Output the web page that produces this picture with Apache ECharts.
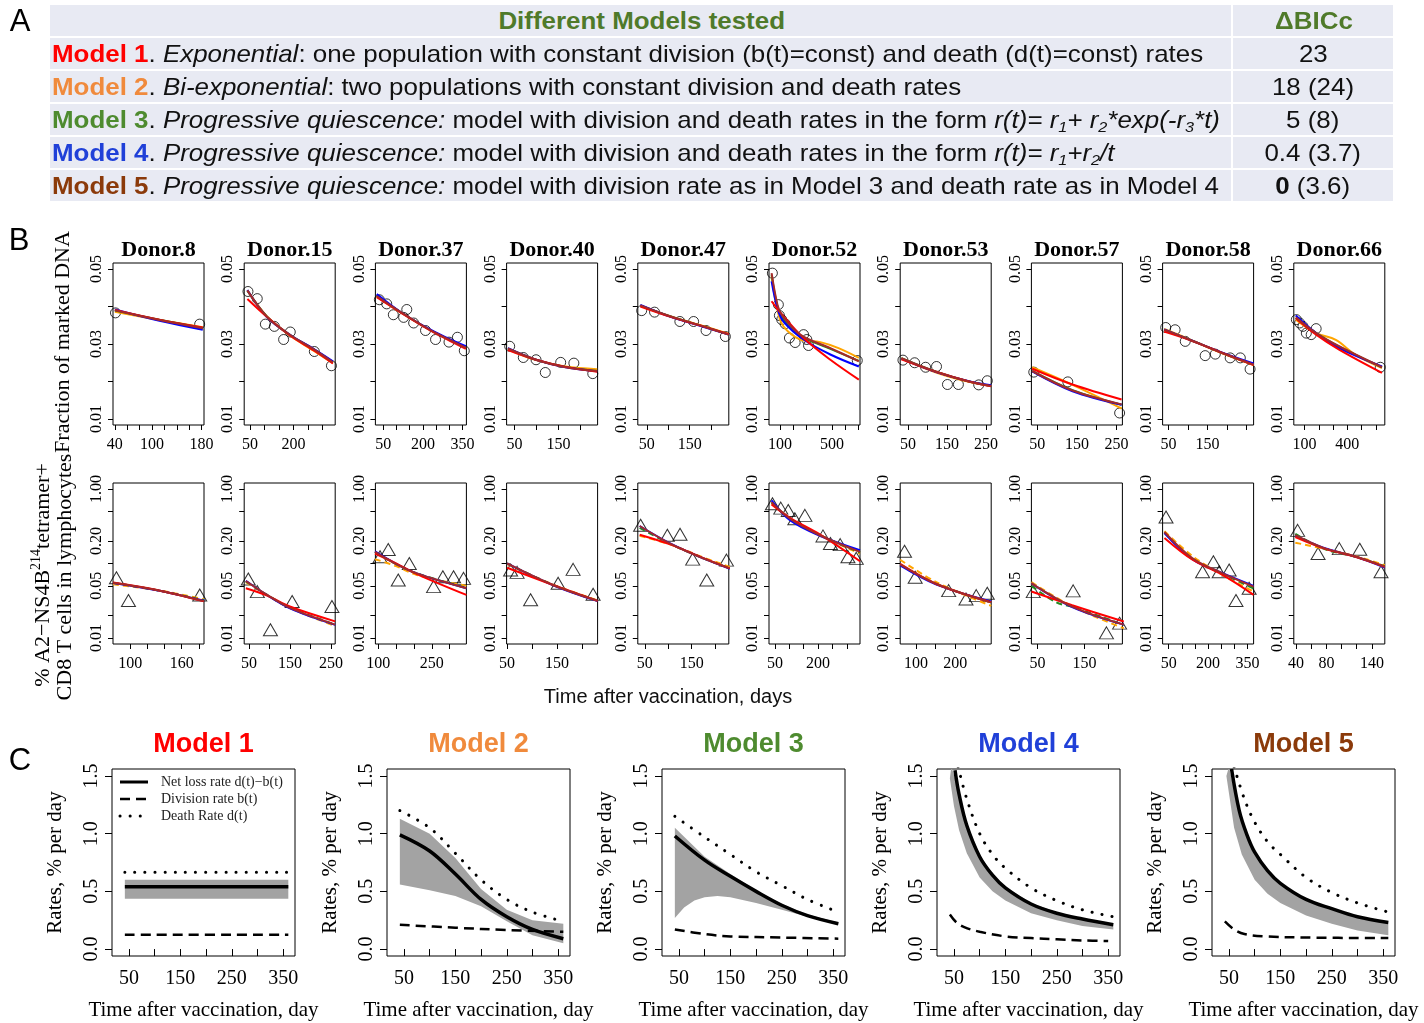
<!DOCTYPE html>
<html>
<head>
<meta charset="utf-8">
<title>Models of marked DNA and tetramer+ T cell decline</title>
<script src="https://cdn.jsdelivr.net/npm/echarts@6.0.0/dist/echarts.min.js"></script>
<style>
  body { margin: 0; background: #fff; }
  #wrap { position: relative; width: 1424px; height: 1023px; }
  #chart { position: absolute; left: 0; top: 0; width: 1424px; height: 1023px; }
  #panelA {
    position: absolute; left: 48px; top: 3px; z-index: 2;
    border-collapse: separate; border-spacing: 2px; table-layout: fixed;
    font-family: 'Liberation Sans', Arial, sans-serif; font-size: 24px; color: #111;
  }
  #panelA td, #panelA th {
    background: #E8EAF3; height: 31px; line-height: 31px; padding: 0 0 0 2px;
    white-space: nowrap; overflow: visible; font-weight: normal; text-align: left;
  }
  #panelA th { color: #4F7A2A; font-weight: bold; text-align: center; }
  #panelA td.num { text-align: center; padding: 0; }
  #panelA span.s { display: inline-block; transform: scaleX(1.08); transform-origin: 0 50%; }
  #panelA th span.s, #panelA td.num span.s { transform-origin: 50% 50%; }
  #panelA sub { font-size: 15px; line-height: 0; vertical-align: -4px; }
  #panelA b { font-weight: bold; }
</style>
</head>
<body>
<div id="wrap">
  <div id="chart"></div>
  <table id="panelA">
    <colgroup><col style="width:1181px"><col style="width:160px"></colgroup>
    <tr><th><span class="s">Different Models tested</span></th><th><span class="s">ΔBICc</span></th></tr>
    <tr><td><span class="s"><b style="color:#FF0000">Model 1</b>. <i>Exponential</i>: one population with constant division (b(t)=const) and death (d(t)=const) rates</span></td><td class="num"><span class="s">23</span></td></tr>
    <tr><td><span class="s"><b style="color:#F08A3C">Model 2</b>. <i>Bi-exponential</i>: two populations with constant division and death rates</span></td><td class="num"><span class="s">18 (24)</span></td></tr>
    <tr><td><span class="s"><b style="color:#4E8B2F">Model 3</b>. <i>Progressive quiescence:</i> model with division and death rates in the form <i>r(t)= r<sub>1</sub>+ r<sub>2</sub>*exp(-r<sub>3</sub>*t)</i></span></td><td class="num"><span class="s">5 (8)</span></td></tr>
    <tr><td><span class="s"><b style="color:#2040D8">Model 4</b>. <i>Progressive quiescence:</i> model with division and death rates in the form <i>r(t)= r<sub>1</sub>+r<sub>2</sub>/t</i></span></td><td class="num"><span class="s">0.4 (3.7)</span></td></tr>
    <tr><td><span class="s"><b style="color:#8B3A0A">Model 5</b>. <i>Progressive quiescence:</i> model with division rate as in Model 3 and death rate as in Model 4</span></td><td class="num"><span class="s"><b>0</b> (3.6)</span></td></tr>
  </table>
</div>
<script>
// ---- panel B: donors ----
const donors = ['Donor.8', 'Donor.15', 'Donor.37', 'Donor.40', 'Donor.47', 'Donor.52', 'Donor.53', 'Donor.57', 'Donor.58', 'Donor.66'];

// top row (fraction of marked DNA), x axes
const dnaXMin = [37, 30, 20, 32, 29, 15, 30, 35, 35, 24];
const dnaXMax = [184, 344, 365, 239, 241, 715, 263, 265, 268, 663];
const dnaXTicks = [
  [40, 60, 80, 100, 120, 140, 160, 180],
  [50, 100, 150, 200, 250, 300],
  [50, 100, 150, 200, 250, 300, 350],
  [50, 100, 150, 200],
  [50, 100, 150, 200],
  [100, 200, 300, 400, 500, 600, 700],
  [50, 100, 150, 200, 250],
  [50, 100, 150, 200, 250],
  [50, 100, 150, 200, 250],
  [100, 200, 300, 400, 500, 600]
];
const dnaXLabels = [[40, 100, 180], [50, 200], [50, 200, 350], [50, 150], [50, 150], [100, 500], [50, 150, 250], [50, 150, 250], [50, 150], [100, 400]];
const dnaYTicks = [0.01, 0.02, 0.03, 0.04, 0.05];
const dnaYLabels = [0.01, 0.03, 0.05];

const dnaObs = [
  [[41, 0.0383], [177, 0.0353]],
  [[43, 0.0440], [75, 0.0421], [103, 0.0353], [134, 0.0347], [166, 0.0312], [189, 0.0332], [272, 0.0280], [331, 0.0242]],
  [[35, 0.0418], [63, 0.0407], [88, 0.0378], [127, 0.0371], [139, 0.0392], [165, 0.0356], [210, 0.0336], [248, 0.0312], [299, 0.0305], [331, 0.0318], [357, 0.0282]],
  [[39, 0.0294], [70, 0.0264], [99, 0.0258], [120, 0.0224], [155, 0.0251], [185, 0.0249], [228, 0.0221]],
  [[38, 0.0389], [68, 0.0385], [127, 0.0360], [159, 0.0360], [188, 0.0336], [233, 0.0320]],
  [[41, 0.0489], [87, 0.0405], [95, 0.0376], [113, 0.0365], [139, 0.0354], [172, 0.0316], [216, 0.0304], [281, 0.0325], [306, 0.0312], [319, 0.0296], [694, 0.0256]],
  [[37, 0.0257], [67, 0.0250], [95, 0.0238], [123, 0.0240], [151, 0.0192], [179, 0.0192], [231, 0.0191], [253, 0.0202]],
  [[41, 0.0225], [127, 0.0199], [258, 0.0116]],
  [[43, 0.0344], [67, 0.0338], [93, 0.0307], [144, 0.0269], [170, 0.0273], [208, 0.0263], [234, 0.0263], [259, 0.0233]],
  [[42, 0.0365], [65, 0.0356], [88, 0.0347], [112, 0.0329], [146, 0.0325], [181, 0.0341], [631, 0.0238]]
];

// model fits, marked DNA
const dnaM1 = [
  [[40, 0.0391], [112, 0.0365], [182, 0.0344]],
  [[41, 0.0420], [109, 0.0372], [189, 0.0322], [272, 0.0282], [336, 0.0248]],
  [[25, 0.0425], [114, 0.0385], [216, 0.0341], [290, 0.0313], [363, 0.0287]],
  [[35, 0.0284], [99, 0.0258], [166, 0.0239], [238, 0.0226]],
  [[35, 0.0400], [104, 0.0373], [181, 0.0347], [241, 0.0326]],
  [[35, 0.0414], [100, 0.0385], [281, 0.0316], [487, 0.0258], [706, 0.0205]],
  [[33, 0.0259], [122, 0.0226], [206, 0.0200], [263, 0.0187]],
  [[37, 0.0234], [139, 0.0192], [263, 0.0152]],
  [[39, 0.0333], [103, 0.0311], [188, 0.0276], [268, 0.0244]],
  [[38, 0.0369], [181, 0.0325], [342, 0.0285], [643, 0.0223]]
];
const dnaM2 = [
  [[40, 0.0386], [112, 0.0364], [182, 0.0345]],
  [[41, 0.0443], [109, 0.0373], [189, 0.0322], [272, 0.0281], [336, 0.0249]],
  [[25, 0.0427], [114, 0.0385], [216, 0.0342], [290, 0.0315], [363, 0.0289]],
  [[35, 0.0286], [99, 0.0257], [166, 0.0240], [238, 0.0233]],
  [[35, 0.0402], [104, 0.0374], [181, 0.0348], [241, 0.0327]],
  [[35, 0.0480], [80, 0.0390], [126, 0.0347], [255, 0.0312], [410, 0.0305], [550, 0.0289], [706, 0.0263]],
  [[33, 0.0262], [122, 0.0224], [206, 0.0199], [263, 0.0189]],
  [[37, 0.0238], [139, 0.0191], [263, 0.0128]],
  [[39, 0.0340], [103, 0.0313], [188, 0.0275], [268, 0.0244]],
  [[38, 0.0365], [181, 0.0329], [319, 0.0311], [458, 0.0271], [643, 0.0236]]
];
const dnaM3 = [
  [[40, 0.0389], [112, 0.0365], [182, 0.0343]],
  [[41, 0.0442], [109, 0.0373], [189, 0.0324], [272, 0.0285], [336, 0.0252]],
  [[25, 0.0428], [114, 0.0386], [216, 0.0342], [290, 0.0315], [363, 0.0290]],
  [[35, 0.0288], [99, 0.0258], [166, 0.0239], [238, 0.0228]],
  [[35, 0.0403], [104, 0.0374], [181, 0.0347], [241, 0.0325]],
  [[35, 0.0485], [80, 0.0400], [126, 0.0365], [255, 0.0322], [487, 0.0287], [706, 0.0255]],
  [[33, 0.0262], [122, 0.0226], [206, 0.0200], [263, 0.0188]],
  [[37, 0.0228], [139, 0.0177], [263, 0.0138]],
  [[39, 0.0338], [103, 0.0312], [188, 0.0276], [268, 0.0245]],
  [[38, 0.0370], [181, 0.0329], [342, 0.0293], [643, 0.0238]]
];
const dnaM4 = [
  [[40, 0.0392], [112, 0.0362], [182, 0.0338]],
  [[41, 0.0444], [109, 0.0371], [189, 0.0324], [272, 0.0286], [336, 0.0254]],
  [[25, 0.0433], [114, 0.0386], [216, 0.0343], [290, 0.0317], [363, 0.0294]],
  [[35, 0.0289], [99, 0.0258], [166, 0.0238], [238, 0.0227]],
  [[35, 0.0404], [104, 0.0373], [181, 0.0346], [241, 0.0325]],
  [[35, 0.0467], [80, 0.0395], [126, 0.0360], [281, 0.0312], [487, 0.0272], [706, 0.0240]],
  [[33, 0.0261], [122, 0.0225], [206, 0.0201], [263, 0.0190]],
  [[37, 0.0227], [139, 0.0174], [263, 0.0138]],
  [[39, 0.0339], [103, 0.0312], [188, 0.0277], [268, 0.0248]],
  [[38, 0.0376], [181, 0.0329], [342, 0.0289], [643, 0.0240]]
];
const dnaM5 = [
  [[40, 0.0390], [112, 0.0364], [182, 0.0342]],
  [[41, 0.0443], [109, 0.0372], [189, 0.0324], [272, 0.0285], [336, 0.0251]],
  [[25, 0.0428], [114, 0.0386], [216, 0.0342], [290, 0.0315], [363, 0.0290]],
  [[35, 0.0288], [99, 0.0258], [166, 0.0238], [238, 0.0228]],
  [[35, 0.0403], [104, 0.0374], [181, 0.0347], [241, 0.0325]],
  [[35, 0.0489], [80, 0.0405], [113, 0.0378], [255, 0.0325], [487, 0.0289], [706, 0.0254]],
  [[33, 0.0262], [122, 0.0226], [206, 0.0200], [263, 0.0188]],
  [[37, 0.0228], [139, 0.0176], [263, 0.0139]],
  [[39, 0.0338], [103, 0.0312], [188, 0.0276], [268, 0.0245]],
  [[38, 0.0371], [181, 0.0329], [342, 0.0294], [643, 0.0238]]
];

// bottom row (% tetramer+ CD8 T cells), x axes
const tcXMin = [80, 38, 92, 49, 35, 29, 60, 37, 27, 37];
const tcXMax = [186, 260, 347, 231, 229, 346, 291, 231, 373, 157];
const tcXTicks = [
  [100, 120, 140, 160, 180],
  [50, 100, 150, 200, 250],
  [100, 150, 200, 250, 300],
  [50, 100, 150, 200],
  [50, 100, 150, 200],
  [50, 100, 150, 200, 250, 300],
  [100, 150, 200, 250],
  [50, 100, 150, 200],
  [50, 100, 150, 200, 250, 300, 350],
  [40, 60, 80, 100, 120, 140]
];
const tcXLabels = [[100, 160], [50, 150, 250], [100, 250], [50, 150], [50, 150], [50, 200], [100, 200], [50, 150], [50, 200, 350], [40, 80, 140]];
const tcYTicks = [0.01, 0.02, 0.05, 0.1, 0.2, 0.5, 1];
const tcYLabels = [0.01, 0.05, 0.2, 1];

const tcObs = [
  [[84, 0.0644], [98, 0.0318], [181, 0.0378]],
  [[48, 0.0618], [70, 0.0419], [102, 0.0129], [155, 0.0308], [252, 0.0264]],
  [[105, 0.1227], [128, 0.1537], [156, 0.060], [187, 0.100], [255, 0.0489], [281, 0.0664], [311, 0.0664], [339, 0.063]],
  [[57, 0.0815], [70, 0.0759], [97, 0.0325], [152, 0.0541], [182, 0.0832], [222, 0.0386]],
  [[41, 0.3246], [98, 0.2387], [125, 0.246], [152, 0.1143], [182, 0.060], [224, 0.1107]],
  [[41, 0.631], [70, 0.552], [96, 0.514], [119, 0.398], [154, 0.441], [217, 0.234], [243, 0.185], [277, 0.179], [304, 0.123], [333, 0.117]],
  [[71, 0.146], [98, 0.0652], [183, 0.0432], [227, 0.0334], [253, 0.037], [281, 0.0398]],
  [[41, 0.0419], [126, 0.0428], [197, 0.0117], [225, 0.0158]],
  [[40, 0.419], [179, 0.0774], [220, 0.1053], [242, 0.0774], [280, 0.0815], [306, 0.0318], [356, 0.0464]],
  [[42, 0.278], [69, 0.136], [97, 0.158], [124, 0.155], [152, 0.0774]]
];

const tcM1 = [
  [[80, 0.0555], [131, 0.0440], [186, 0.0310]],
  [[42, 0.0464], [94, 0.0370], [151, 0.0262], [260, 0.0167]],
  [[91, 0.136], [150, 0.100], [208, 0.072], [347, 0.0378]],
  [[50, 0.0876], [142, 0.0514], [231, 0.0315]],
  [[39, 0.243], [104, 0.180], [175, 0.118], [231, 0.0858]],
  [[38, 0.620], [102, 0.410], [206, 0.245], [346, 0.107]],
  [[60, 0.0985], [152, 0.053], [291, 0.0301]],
  [[37, 0.042], [124, 0.0275], [234, 0.0166]],
  [[34, 0.220], [141, 0.112], [255, 0.070], [373, 0.0378]],
  [[39, 0.225], [76, 0.160], [119, 0.122], [157, 0.0903]]
];
const tcM2 = [
  [[80, 0.0525], [131, 0.0440], [186, 0.0330]],
  [[42, 0.0560], [94, 0.0375], [151, 0.0251], [260, 0.0145]],
  [[91, 0.114], [150, 0.092], [208, 0.070], [347, 0.050]],
  [[50, 0.098], [142, 0.0520], [231, 0.0320]],
  [[39, 0.235], [104, 0.180], [175, 0.120], [231, 0.090]],
  [[38, 0.640], [102, 0.400], [206, 0.240], [346, 0.135]],
  [[60, 0.112], [152, 0.056], [291, 0.027]],
  [[37, 0.056], [124, 0.0265], [234, 0.0135]],
  [[34, 0.270], [141, 0.125], [255, 0.070], [373, 0.042]],
  [[39, 0.190], [76, 0.158], [119, 0.125], [157, 0.095]]
];
const tcM3 = [
  [[80, 0.0550], [131, 0.0438], [186, 0.0320]],
  [[42, 0.0575], [94, 0.0378], [151, 0.0252], [260, 0.0152]],
  [[91, 0.143], [150, 0.098], [208, 0.0735], [347, 0.047]],
  [[50, 0.100], [142, 0.0514], [231, 0.0315]],
  [[39, 0.300], [104, 0.183], [175, 0.117], [231, 0.086]],
  [[38, 0.655], [102, 0.400], [206, 0.240], [346, 0.140]],
  [[60, 0.095], [152, 0.053], [291, 0.030]],
  [[37, 0.050], [90, 0.030], [124, 0.0262], [234, 0.015]],
  [[34, 0.260], [141, 0.115], [255, 0.073], [373, 0.046]],
  [[39, 0.250], [76, 0.158], [119, 0.122], [157, 0.092]]
];
const tcM4 = [
  [[80, 0.0545], [131, 0.0436], [186, 0.0315]],
  [[42, 0.0585], [94, 0.0375], [151, 0.0248], [260, 0.0150]],
  [[91, 0.145], [150, 0.099], [208, 0.0735], [347, 0.0464]],
  [[50, 0.100], [142, 0.0510], [231, 0.0312]],
  [[39, 0.318], [104, 0.186], [175, 0.1167], [231, 0.0850]],
  [[38, 0.700], [102, 0.380], [206, 0.235], [346, 0.150]],
  [[60, 0.094], [152, 0.052], [291, 0.031]],
  [[37, 0.054], [124, 0.026], [234, 0.0151]],
  [[34, 0.255], [141, 0.113], [255, 0.074], [373, 0.050]],
  [[39, 0.235], [76, 0.162], [119, 0.1227], [157, 0.088]]
];
const tcM5 = [
  [[80, 0.0552], [131, 0.0440], [186, 0.0312]],
  [[42, 0.0581], [94, 0.0378], [151, 0.0251], [260, 0.0151]],
  [[91, 0.143], [150, 0.098], [208, 0.0735], [347, 0.0464]],
  [[50, 0.100], [142, 0.0514], [231, 0.0315]],
  [[39, 0.318], [104, 0.185], [175, 0.1167], [231, 0.0858]],
  [[38, 0.664], [102, 0.398], [206, 0.239], [346, 0.143]],
  [[60, 0.097], [152, 0.053], [291, 0.030]],
  [[37, 0.0541], [124, 0.0264], [234, 0.0151]],
  [[34, 0.264], [141, 0.117], [255, 0.0736], [373, 0.0489]],
  [[39, 0.239], [76, 0.162], [119, 0.1227], [157, 0.0903]]
];

// ---- panel C: rates per model ----
const modelNames = ['Model 1', 'Model 2', 'Model 3', 'Model 4', 'Model 5'];
const rateXTicks = [50, 100, 150, 200, 250, 300, 350];
const rateXLabels = [50, 150, 250, 350];
const rateYTicks = [0, 0.5, 1, 1.5];

const rateNet = [
  [[42, 0.54], [360, 0.54]],
  [[42, 0.99], [100, 0.85], [150, 0.65], [200, 0.43], [250, 0.28], [300, 0.17], [360, 0.09]],
  [[42, 0.98], [100, 0.77], [150, 0.63], [200, 0.50], [250, 0.38], [300, 0.29], [360, 0.22]],
  [[52, 1.55], [60, 1.34], [75, 1.07], [100, 0.80], [125, 0.64], [150, 0.53], [200, 0.39], [250, 0.31], [300, 0.26], [360, 0.21]],
  [[55, 1.56], [70, 1.20], [85, 0.99], [100, 0.84], [125, 0.68], [150, 0.57], [200, 0.43], [250, 0.35], [300, 0.28], [360, 0.23]]
];
const rateDiv = [
  [[42, 0.125], [360, 0.125]],
  [[42, 0.21], [150, 0.185], [250, 0.165], [360, 0.15]],
  [[42, 0.17], [100, 0.13], [150, 0.11], [250, 0.10], [360, 0.09]],
  [[42, 0.30], [55, 0.23], [70, 0.19], [100, 0.15], [150, 0.11], [200, 0.095], [250, 0.085], [300, 0.075], [350, 0.07]],
  [[42, 0.24], [60, 0.17], [80, 0.13], [120, 0.11], [200, 0.10], [360, 0.095]]
];
const rateDeath = [
  [[42, 0.665], [360, 0.665]],
  [[42, 1.20], [100, 1.05], [150, 0.83], [200, 0.60], [250, 0.43], [300, 0.32], [360, 0.24]],
  [[42, 1.15], [100, 0.97], [150, 0.82], [200, 0.67], [250, 0.55], [300, 0.43], [360, 0.32]],
  [[58, 1.58], [75, 1.30], [100, 1.00], [125, 0.82], [150, 0.70], [200, 0.53], [250, 0.42], [300, 0.34], [360, 0.28]],
  [[60, 1.58], [80, 1.30], [100, 1.10], [125, 0.93], [150, 0.82], [200, 0.62], [250, 0.49], [300, 0.40], [360, 0.32]]
];
const rateHi = [
  [[42, 0.60], [360, 0.60]],
  [[42, 1.13], [100, 1.00], [150, 0.79], [200, 0.52], [250, 0.34], [300, 0.25], [360, 0.22]],
  [[42, 1.05], [100, 0.80], [150, 0.65], [200, 0.51], [250, 0.39], [300, 0.30], [360, 0.23]],
  [[45, 1.58], [60, 1.36], [75, 1.09], [100, 0.82], [125, 0.65], [150, 0.54], [200, 0.40], [250, 0.32], [300, 0.26], [360, 0.21]],
  [[50, 1.58], [60, 1.38], [70, 1.20], [85, 0.99], [100, 0.84], [125, 0.68], [150, 0.57], [200, 0.43], [250, 0.35], [300, 0.28], [360, 0.23]]
];
const rateLo = [
  [[42, 0.435], [360, 0.435]],
  [[42, 0.56], [100, 0.51], [150, 0.46], [200, 0.37], [250, 0.24], [300, 0.12], [360, 0.05]],
  [[42, 0.27], [60, 0.36], [80, 0.42], [100, 0.45], [125, 0.46], [150, 0.45], [200, 0.40], [250, 0.34], [300, 0.28], [360, 0.21]],
  [[42, 1.48], [50, 1.24], [60, 1.03], [75, 0.83], [100, 0.62], [125, 0.50], [150, 0.42], [200, 0.31], [250, 0.25], [300, 0.20], [360, 0.17]],
  [[45, 1.50], [60, 1.05], [75, 0.82], [100, 0.60], [125, 0.48], [150, 0.40], [200, 0.29], [250, 0.22], [300, 0.16], [360, 0.12]]
];

const SERIF = "'Liberation Serif', 'Times New Roman', serif";
const SANS = "'Liberation Sans', Arial, sans-serif";
const lineColors = ['#FF0000', '#FFA500', '#228B22', '#0000FF', '#A52A2A'];
const titleColors = ['#FF0000', '#F08A3C', '#4E8B2F', '#2040D8', '#8B3A0A'];
const NET = 'Net loss rate d(t)\u2212b(t)';
const DIV = 'Division rate b(t)';
const DEATH = 'Death Rate d(t)';
const dottedStyle = { color: '#000', width: 3, type: [0.1, 10], cap: 'round' };
const dashedStyle = { color: '#000', width: 2.5, type: [10, 6] };
const solidStyle = { color: '#000', width: 3.5 };

const chart = echarts.init(document.getElementById('chart'));

const grid = [], xAxis = [], yAxis = [], series = [], graphic = [];
const dnaFits = [dnaM1, dnaM2, dnaM3, dnaM4, dnaM5];
const tcFits = [tcM1, tcM2, tcM3, tcM4, tcM5];
const drawOrder = [1, 2, 3, 0, 4];

const tickStyle = (len, vals) => ({ show: true, length: len, customValues: vals, lineStyle: { color: '#000', width: 1 } });

for (let r = 0; r < 2; r++) {
  for (let i = 0; i < 10; i++) {
    const g = r * 10 + i;
    const left = 113 + i * 131.2;
    grid.push({
      left: left, top: r ? 483 : 263, width: 91, height: r ? 161 : 162,
      show: true, borderColor: '#000', borderWidth: 1, backgroundColor: 'transparent',
      outerBoundsMode: 'none'
    });
    xAxis.push({
      gridIndex: g, type: 'value',
      min: r ? tcXMin[i] : dnaXMin[i], max: r ? tcXMax[i] : dnaXMax[i],
      axisLine: { show: false },
      axisTick: tickStyle(5, r ? tcXTicks[i] : dnaXTicks[i]),
      axisLabel: { customValues: r ? tcXLabels[i] : dnaXLabels[i], fontFamily: SERIF, fontSize: 16, color: '#000', margin: 12 },
      splitLine: { show: false }
    });
    yAxis.push({
      gridIndex: g,
      type: r ? 'log' : 'value', logBase: 10,
      min: r ? 0.0083 : 0.0084, max: r ? 1.2 : 0.0516,
      axisLine: { show: false },
      axisTick: tickStyle(5, r ? tcYTicks : dnaYTicks),
      axisLabel: {
        customValues: r ? tcYLabels : dnaYLabels,
        formatter: v => Number(v).toFixed(2),
        rotate: 90, fontFamily: SERIF, fontSize: 16, color: '#000', margin: 8
      },
      splitLine: { show: false }, minorTick: { show: false }
    });
    series.push({
      type: 'scatter', xAxisIndex: g, yAxisIndex: g, silent: true,
      data: r ? tcObs[i] : dnaObs[i],
      symbol: r ? 'triangle' : 'circle', symbolSize: r ? [14, 12] : 10,
      itemStyle: { color: 'rgba(0,0,0,0)', borderColor: '#000', borderWidth: 1 }
    });
    drawOrder.forEach(m => {
      series.push({
        type: 'line', xAxisIndex: g, yAxisIndex: g, silent: true,
        data: (r ? tcFits : dnaFits)[m][i],
        symbol: 'none', smooth: 0.35,
        lineStyle: { color: lineColors[m], width: 2, type: (r && (m === 1 || m === 2)) ? [6, 4] : 'solid' }
      });
    });
    if (r === 0) {
      graphic.push({
        type: 'text', x: left + 45.5, y: 250,
        style: { text: donors[i], fontFamily: SERIF, fontSize: 22, fontWeight: 'bold', fill: '#000', align: 'center', verticalAlign: 'middle' }
      });
    }
  }
}

for (let m = 0; m < 5; m++) {
  const g = 20 + m;
  const left = 112 + m * 275;
  grid.push({
    left: left, top: 769, width: 183, height: 187,
    show: true, borderColor: '#000', borderWidth: 1, backgroundColor: 'transparent',
    outerBoundsMode: 'none'
  });
  xAxis.push({
    gridIndex: g, type: 'value', min: 17, max: 373,
    name: 'Time after vaccination, day', nameLocation: 'middle', nameGap: 44,
    nameTextStyle: { fontFamily: SERIF, fontSize: 21, color: '#000' },
    axisLine: { show: false },
    axisTick: tickStyle(7, rateXTicks),
    axisLabel: { customValues: rateXLabels, fontFamily: SERIF, fontSize: 20, color: '#000', margin: 13 },
    splitLine: { show: false }
  });
  yAxis.push({
    gridIndex: g, type: 'value', min: -0.06, max: 1.56,
    name: 'Rates, % per day', nameLocation: 'middle', nameGap: 46, nameRotate: 90,
    nameTextStyle: { fontFamily: SERIF, fontSize: 21, color: '#000' },
    axisLine: { show: false },
    axisTick: tickStyle(7, rateYTicks),
    axisLabel: { customValues: rateYTicks, formatter: v => Number(v).toFixed(1), rotate: 90, fontFamily: SERIF, fontSize: 20, color: '#000', margin: 10 },
    splitLine: { show: false }
  });
  const hi = rateHi[m], lo = rateLo[m];
  series.push({
    type: 'custom', xAxisIndex: g, yAxisIndex: g, silent: true, data: [0],
    renderItem: (params, api) => {
      const pts = hi.map(p => api.coord(p)).concat(lo.slice().reverse().map(p => api.coord(p)));
      const cs = params.coordSys;
      return {
        type: 'polygon', shape: { points: pts },
        style: { fill: '#A3A3A3' },
        clipPath: { type: 'rect', shape: { x: cs.x, y: cs.y, width: cs.width, height: cs.height } }
      };
    }
  });
  series.push({
    name: DEATH, type: 'line', xAxisIndex: g, yAxisIndex: g, silent: true, data: rateDeath[m],
    symbol: 'none', smooth: 0.35, lineStyle: dottedStyle
  });
  series.push({
    name: DIV, type: 'line', xAxisIndex: g, yAxisIndex: g, silent: true, data: rateDiv[m],
    symbol: 'none', smooth: 0.35, lineStyle: dashedStyle
  });
  series.push({
    name: NET, type: 'line', xAxisIndex: g, yAxisIndex: g, silent: true, data: rateNet[m],
    symbol: 'none', smooth: 0.35, lineStyle: solidStyle
  });
  graphic.push({
    type: 'text', x: left + 91.5, y: 745,
    style: { text: modelNames[m], fontFamily: SANS, fontSize: 27, fontWeight: 'bold', fill: titleColors[m], align: 'center', verticalAlign: 'middle' }
  });
}

// legend of Model 1 panel
[[NET, solidStyle], [DIV, dashedStyle], [DEATH, dottedStyle]].forEach(([label, ls], k) => {
  const y = 782 + k * 17;
  graphic.push({
    type: 'line', shape: { x1: 120, y1: y, x2: 148, y2: y },
    style: { stroke: '#000', lineWidth: ls.width === 3.5 ? 3 : ls.width, lineDash: Array.isArray(ls.type) ? ls.type : null, lineCap: ls.cap || 'butt' }
  });
  graphic.push({
    type: 'text', x: 161, y: y,
    style: { text: label, fontFamily: SERIF, fontSize: 14, fill: '#222', align: 'left', verticalAlign: 'middle' }
  });
});

// panel letters and shared axis titles
[['A', 20, 22], ['B', 19, 241], ['C', 20, 761]].forEach(([t, x, y]) => {
  graphic.push({ type: 'text', x: x, y: y, style: { text: t, fontFamily: SANS, fontSize: 31, fill: '#000', align: 'center', verticalAlign: 'middle' } });
});
graphic.push({
  type: 'text', x: 63, y: 342, rotation: Math.PI / 2,
  style: { text: 'Fraction of marked DNA', fontFamily: SERIF, fontSize: 22, fill: '#000', align: 'center', verticalAlign: 'middle' }
});
graphic.push({
  type: 'text', x: 43, y: 575, rotation: Math.PI / 2,
  style: {
    text: '% A2\u2212NS4B{sup|214}tetramer+', fontFamily: SERIF, fontSize: 22, lineHeight: 28, fill: '#000', align: 'center', verticalAlign: 'middle',
    rich: { sup: { fontFamily: SERIF, fontSize: 14, lineHeight: 28, verticalAlign: 'top', fill: '#000' } }
  }
});
graphic.push({
  type: 'text', x: 65, y: 577, rotation: Math.PI / 2,
  style: { text: 'CD8 T cells in lymphocytes', fontFamily: SERIF, fontSize: 22, fill: '#000', align: 'center', verticalAlign: 'middle' }
});
graphic.push({
  type: 'text', x: 668, y: 697,
  style: { text: 'Time after vaccination, days', fontFamily: SANS, fontSize: 20, fill: '#111', align: 'center', verticalAlign: 'middle' }
});

chart.setOption({
  animation: false,
  backgroundColor: '#fff',
  grid: grid,
  xAxis: xAxis,
  yAxis: yAxis,
  graphic: graphic,
  series: series
});
</script>
</body>
</html>
